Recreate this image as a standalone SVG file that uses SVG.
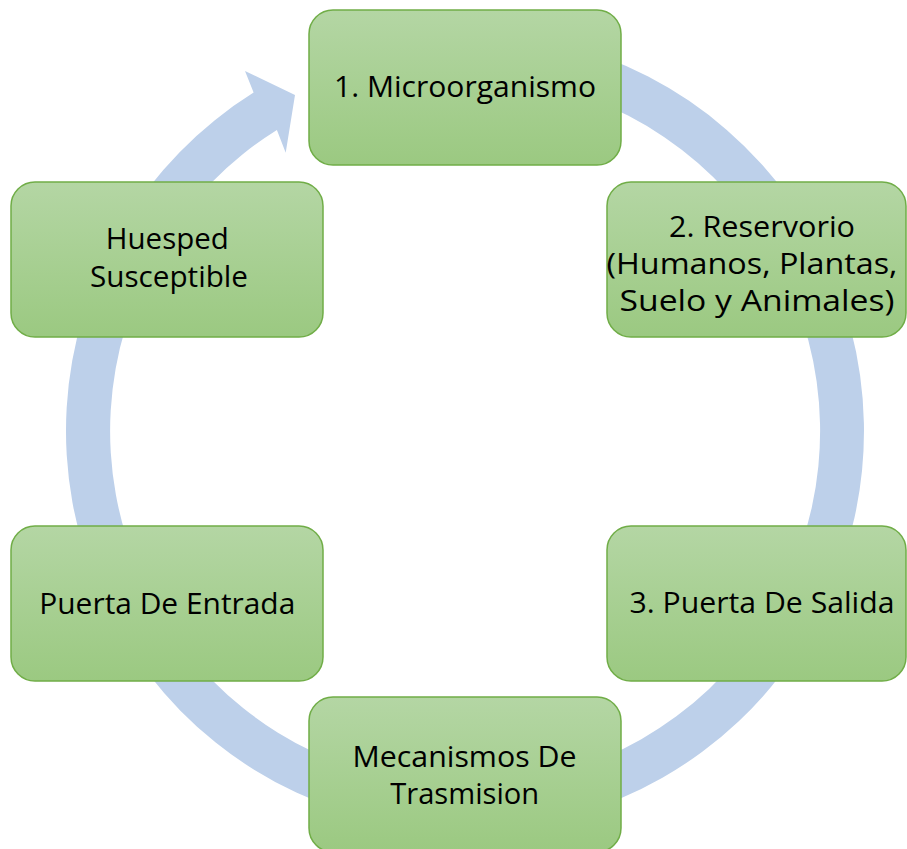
<svg xmlns="http://www.w3.org/2000/svg" width="907" height="849" viewBox="0 0 907 849">
  <defs>
    <linearGradient id="g" x1="0" y1="0" x2="0" y2="1">
      <stop offset="0" stop-color="#B4D6A4"/>
      <stop offset="1" stop-color="#9BC981"/>
    </linearGradient>
  </defs>
  <style>
    .node rect { fill: url(#g); stroke: #70AD47; stroke-width: 1.5; }
    .node text { font-family: "Open Sans", "Noto Sans", sans-serif; font-size: 30px; fill: #000; text-anchor: middle; }
    .ring { fill: #BDD0EA; stroke: none; }
  </style>
  <g id="connectors">
    <path class="ring" d="M 465 32 A 399 399 0 1 1 253.6 92.6 L 245 71 L 295 95 L 285.7 152.7 L 276.9 130.0 A 355 355 0 1 0 465 76 Z"/>
  </g>
  <g id="node-microorganismo" class="node">
    <rect x="309" y="10" width="312" height="155" rx="24"/>
    <text x="465" y="97" textLength="262" lengthAdjust="spacingAndGlyphs">1. Microorganismo</text>
  </g>
  <g id="node-reservorio" class="node">
    <rect x="607" y="182" width="299" height="155" rx="24"/>
    <text x="762" y="237" textLength="186" lengthAdjust="spacingAndGlyphs">2. Reservorio</text>
    <text x="752" y="274" textLength="291" lengthAdjust="spacingAndGlyphs">(Humanos, Plantas,</text>
    <text x="757" y="311" textLength="275" lengthAdjust="spacingAndGlyphs">Suelo y Animales)</text>
  </g>
  <g id="node-salida" class="node">
    <rect x="607" y="526" width="299" height="155" rx="24"/>
    <text x="762" y="613" textLength="265" lengthAdjust="spacingAndGlyphs">3. Puerta De Salida</text>
  </g>
  <g id="node-mecanismos" class="node">
    <rect x="309" y="697" width="312" height="155" rx="24"/>
    <text x="464.5" y="767" textLength="224" lengthAdjust="spacingAndGlyphs">Mecanismos De</text>
    <text x="464.7" y="804" textLength="149" lengthAdjust="spacingAndGlyphs">Trasmision</text>
  </g>
  <g id="node-entrada" class="node">
    <rect x="11" y="526" width="312" height="155" rx="24"/>
    <text x="167.3" y="614" textLength="256" lengthAdjust="spacingAndGlyphs">Puerta De Entrada</text>
  </g>
  <g id="node-huesped" class="node">
    <rect x="11" y="182" width="312" height="155" rx="24"/>
    <text x="167.3" y="249" textLength="123" lengthAdjust="spacingAndGlyphs">Huesped</text>
    <text x="169" y="287" textLength="158" lengthAdjust="spacingAndGlyphs">Susceptible</text>
  </g>
</svg>
